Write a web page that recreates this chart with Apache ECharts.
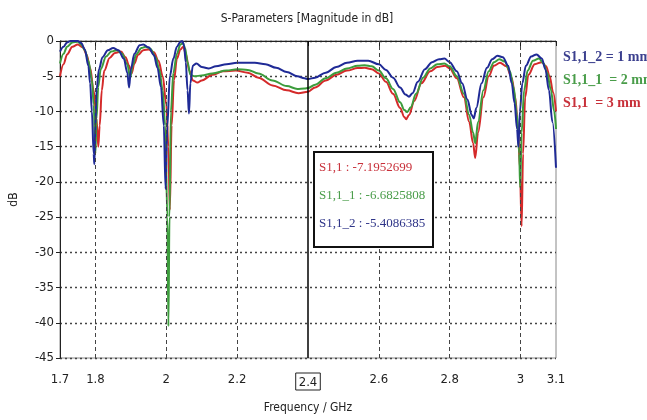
<!DOCTYPE html>
<html>
<head>
<meta charset="utf-8">
<script src="https://cdn.jsdelivr.net/npm/echarts@6/dist/echarts.min.js"></script>
<style>
  html, body { margin: 0; padding: 0; background: #fff; }
  #chart { width: 647px; height: 420px; }
</style>
</head>
<body>
<div id="chart"></div>
<script>
// S1,1 = 3 mm (red)
const s11_3mm = [
  [1.70,-5],[1.71,-3.3],[1.72,-1.9],[1.735,-0.8],[1.75,-0.5],[1.765,-0.9],[1.775,-1.9],
  [1.785,-3.8],[1.795,-7],[1.803,-11],[1.808,-15],[1.812,-12],[1.818,-7],[1.825,-4.2],
  [1.84,-2.4],[1.855,-1.7],[1.872,-1.5],[1.885,-2.3],[1.895,-3.5],[1.902,-4.6],[1.91,-3.2],
  [1.92,-2],[1.935,-1.3],[1.95,-1.2],[1.965,-1.6],[1.978,-2.8],[1.99,-5],[2.0,-9],
  [2.006,-15],[2.01,-24],[2.015,-12],[2.022,-5.5],[2.03,-2.5],[2.04,-1.2],[2.048,-0.8],
  [2.055,-1.8],[2.065,-4.2],[2.075,-5.6],[2.088,-5.9],[2.1,-5.6],[2.13,-4.8],[2.16,-4.3],
  [2.196,-4.2],[2.23,-4.5],[2.26,-5.2],[2.3,-6.3],[2.34,-7.0],[2.373,-7.4],[2.40,-7.2],
  [2.42,-6.6],[2.45,-5.6],[2.48,-4.8],[2.51,-4.2],[2.54,-3.85],[2.56,-3.8],[2.58,-4.0],
  [2.6,-4.6],[2.62,-5.8],[2.64,-7.5],[2.66,-9.5],[2.672,-10.8],[2.677,-11.1],[2.685,-10.5],
  [2.7,-8.5],[2.72,-6],[2.745,-4.3],[2.765,-3.7],[2.787,-3.5],[2.80,-3.9],[2.82,-5.3],
  [2.84,-8],[2.855,-11.5],[2.866,-14.5],[2.872,-16.6],[2.88,-13],[2.895,-8],[2.91,-5],
  [2.925,-3.5],[2.942,-3.1],[2.96,-3.6],[2.975,-5.2],[2.985,-8],[2.993,-12.5],[2.998,-18],
  [3.003,-26.3],[3.007,-16],[3.013,-8],[3.022,-4.8],[3.04,-3.3],[3.06,-3.0],[3.072,-3.6],
  [3.082,-5],[3.092,-7.3],[3.10,-10]
];
// S1,1_1 = 2 mm (green)
const s11_2mm = [
  [1.70,-3.2],[1.71,-1.8],[1.72,-0.8],[1.735,-0.2],[1.75,-0.1],[1.76,-0.5],[1.77,-1.3],
  [1.78,-2.8],[1.79,-5.5],[1.795,-9],[1.80,-16],[1.803,-11],[1.808,-6.5],[1.815,-4],
  [1.83,-2.2],[1.845,-1.5],[1.86,-1.3],[1.875,-1.8],[1.89,-3.3],[1.898,-5.2],[1.905,-3.5],
  [1.915,-1.9],[1.93,-1.0],[1.942,-0.8],[1.955,-1.1],[1.97,-2.3],[1.98,-4],[1.99,-7],
  [1.997,-12],[2.003,-25],[2.006,-40.5],[2.009,-25],[2.013,-10],[2.02,-4.5],[2.03,-1.8],
  [2.04,-0.5],[2.047,-0.3],[2.053,-1],[2.06,-3],[2.068,-4.8],[2.08,-5],[2.1,-4.9],
  [2.13,-4.6],[2.17,-4.2],[2.2,-4.0],[2.23,-4.1],[2.26,-4.6],[2.3,-5.6],[2.34,-6.4],
  [2.37,-6.8],[2.39,-6.75],[2.40,-6.68],[2.42,-6.2],[2.45,-5.3],[2.48,-4.5],[2.51,-3.9],
  [2.54,-3.5],[2.56,-3.45],[2.58,-3.6],[2.6,-4.2],[2.62,-5.3],[2.64,-6.8],[2.66,-8.7],
  [2.672,-9.8],[2.68,-10.1],[2.69,-9.4],[2.705,-7.5],[2.725,-5.2],[2.745,-3.9],[2.765,-3.3],
  [2.785,-3.2],[2.80,-3.6],[2.82,-5],[2.84,-7.5],[2.855,-10.5],[2.866,-13],[2.872,-14.5],
  [2.88,-11.5],[2.895,-7],[2.91,-4.3],[2.925,-3],[2.94,-2.6],[2.955,-2.9],[2.97,-4.3],
  [2.98,-6.5],[2.99,-10.5],[2.996,-16],[2.999,-20.8],[3.003,-13],[3.01,-7],[3.02,-4.2],
  [3.035,-2.8],[3.052,-2.5],[3.065,-3.2],[3.075,-4.5],[3.085,-6.8],[3.095,-10],[3.10,-12.5]
];
// S1,1_2 = 1 mm (blue)
const s11_1mm = [
  [1.70,-1.5],[1.71,-0.8],[1.72,-0.2],[1.73,0],[1.75,0],[1.76,-0.3],[1.77,-1.2],
  [1.78,-3.5],[1.785,-6],[1.79,-10],[1.795,-16],[1.797,-17.5],[1.80,-12],[1.803,-7],
  [1.81,-4],[1.82,-2.3],[1.835,-1.3],[1.85,-1.0],[1.865,-1.3],[1.88,-2.5],[1.89,-4.5],
  [1.895,-6.6],[1.90,-4],[1.91,-1.8],[1.925,-0.6],[1.935,-0.5],[1.95,-0.9],[1.965,-2],
  [1.975,-3.8],[1.985,-6.5],[1.993,-12],[1.998,-21],[2.003,-12],[2.01,-5],[2.02,-2.5],
  [2.03,-0.8],[2.04,-0.1],[2.045,0],[2.05,-0.6],[2.055,-3],[2.06,-7],[2.064,-10.3],
  [2.068,-6],[2.075,-3.5],[2.085,-3.2],[2.10,-3.7],[2.12,-3.9],[2.14,-3.6],[2.17,-3.3],
  [2.2,-3.1],[2.25,-3.1],[2.28,-3.3],[2.31,-3.8],[2.34,-4.4],[2.37,-5.0],[2.39,-5.3],
  [2.40,-5.41],[2.42,-5.2],[2.45,-4.5],[2.48,-3.7],[2.51,-3.1],[2.54,-2.8],[2.57,-2.8],
  [2.6,-3.3],[2.62,-4.1],[2.64,-5.2],[2.66,-6.6],[2.675,-7.6],[2.685,-7.9],[2.695,-7.4],
  [2.71,-5.8],[2.73,-4.0],[2.75,-3.0],[2.77,-2.6],[2.785,-2.5],[2.80,-3.0],[2.82,-4.3],
  [2.835,-6],[2.85,-8.3],[2.862,-10.5],[2.868,-11],[2.875,-9.5],[2.89,-6],[2.905,-3.8],
  [2.92,-2.6],[2.935,-2.1],[2.95,-2.3],[2.965,-3.5],[2.975,-6],[2.983,-8.8],[2.99,-12.5],
  [2.994,-15],[2.998,-10],[3.005,-6],[3.015,-3.5],[3.03,-2.2],[3.045,-1.9],[3.06,-2.5],
  [3.07,-4],[3.08,-7],[3.09,-11.5],[3.10,-18]
];

const xTickValues = [1.7, 1.8, 2, 2.2, 2.4, 2.6, 2.8, 3, 3.1];
const xGridValues = [1.8, 2, 2.2, 2.6, 2.8, 3];
const markerFreq = 2.4;
const markerTexts = ['S1,1 : -7.1952699', 'S1,1_1 : -6.6825808', 'S1,1_2 : -5.4086385'];
const legendTexts = ['S1,1_2 = 1 mm', 'S1,1_1  = 2 mm', 'S1,1  = 3 mm'];

const RED = '#d42a2a', GREEN = '#3c9c3c', BLUE = '#1f2a96';
const uiFont = '"DejaVu Sans Condensed", "DejaVu Sans", sans-serif';
const serif = '"Liberation Serif", "DejaVu Serif", serif';

const chart = echarts.init(document.getElementById('chart'));

function lineSeries(name, data, color, extra) {
  return Object.assign({
    name: name,
    type: 'line',
    data: data,
    showSymbol: false,
    smooth: 0.35,
    smoothMonotone: 'x',
    lineStyle: { color: color, width: 2 },
    itemStyle: { color: color },
    animation: false
  }, extra || {});
}

const option = {
  animation: false,
  grid: { left: 59, right: 91, top: 41, bottom: 62, show: true, borderColor: '#888', borderWidth: 1 },
  graphic: [
    { type: 'text', x: 307, y: 19, style: { text: 'S-Parameters [Magnitude in dB]', font: '12px ' + uiFont, fill: '#222', align: 'center', verticalAlign: 'middle' } },
    { type: 'text', x: 563, y: 57, style: { text: legendTexts[0], font: 'bold 14px ' + serif, fill: '#3b3f8e', verticalAlign: 'middle' } },
    { type: 'text', x: 563, y: 80, style: { text: legendTexts[1], font: 'bold 14px ' + serif, fill: '#4a9d4a', verticalAlign: 'middle' } },
    { type: 'text', x: 563, y: 103, style: { text: legendTexts[2], font: 'bold 14px ' + serif, fill: '#c8303a', verticalAlign: 'middle' } },
    { type: 'rect', shape: { x: 314, y: 152, width: 119, height: 95 }, style: { fill: '#fff', stroke: '#111', lineWidth: 2 }, z: 100 },
    { type: 'text', x: 319, y: 168, style: { text: markerTexts[0], font: '13px ' + serif, fill: '#c8303a', verticalAlign: 'middle' }, z: 101 },
    { type: 'text', x: 319, y: 196, style: { text: markerTexts[1], font: '13px ' + serif, fill: '#4a9d4a', verticalAlign: 'middle' }, z: 101 },
    { type: 'text', x: 319, y: 224, style: { text: markerTexts[2], font: '13px ' + serif, fill: '#2e3488', verticalAlign: 'middle' }, z: 101 }
  ],
  xAxis: {
    type: 'value',
    min: 1.7,
    max: 3.1,
    name: 'Frequency / GHz',
    nameLocation: 'middle',
    nameGap: 44,
    nameTextStyle: { fontFamily: uiFont, fontSize: 12, color: '#222' },
    axisLine: { lineStyle: { color: '#222', width: 1 } },
    axisTick: { customValues: xTickValues, length: 5, lineStyle: { color: '#222' } },
    axisLabel: {
      customValues: xTickValues,
      margin: 15,
      fontFamily: uiFont,
      fontSize: 13,
      color: '#222',
      formatter: function (v) {
        return Math.abs(v - markerFreq) < 1e-6 ? '{m|2.4}' : String(+v.toFixed(1));
      },
      rich: {
        m: { fontFamily: uiFont, fontSize: 13, color: '#222', borderColor: '#222', borderWidth: 1, padding: [3, 3, 1, 3] }
      }
    },
    splitLine: { show: false }
  },
  yAxis: {
    type: 'value',
    min: -45,
    max: 0,
    interval: 5,
    name: 'dB',
    nameLocation: 'middle',
    nameGap: 40,
    nameRotate: 90,
    nameTextStyle: { fontFamily: uiFont, fontSize: 12, color: '#222' },
    axisLine: { show: true, lineStyle: { color: '#222', width: 1 } },
    axisTick: { show: true, length: 4, lineStyle: { color: '#222' } },
    axisLabel: { fontFamily: uiFont, fontSize: 13, color: '#222', margin: 6 },
    splitLine: { show: true, lineStyle: { color: '#444', type: [2, 3], width: 1.3 } }
  },
  series: [
    lineSeries('S1,1', s11_3mm, RED, {
      markLine: {
        silent: true,
        symbol: 'none',
        label: { show: false },
        animation: false,
        data: xGridValues.map(v => ({ xAxis: v, lineStyle: { color: '#444', type: [4, 3], width: 1 } }))
          .concat([{ xAxis: markerFreq, lineStyle: { color: '#000', type: 'solid', width: 1.5 } }])
      }
    }),
    lineSeries('S1,1_1', s11_2mm, GREEN),
    lineSeries('S1,1_2', s11_1mm, BLUE)
  ]
};

chart.setOption(option);
</script>
</body>
</html>
